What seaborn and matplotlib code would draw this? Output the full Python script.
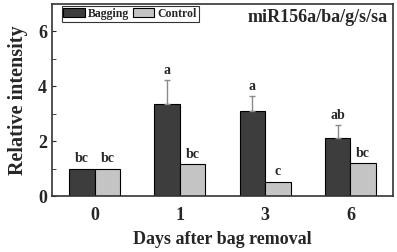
import numpy as np
import pandas as pd
import matplotlib.pyplot as plt
import seaborn as sns

days = ['0', '1', '3', '6']
treatments = ['Bagging', 'Control']
bagging = [1.0, 3.35, 3.09, 2.12]
bagging_err = [0.0, 0.87, 0.55, 0.46]
control = [1.0, 1.16, 0.52, 1.21]
control_err = [0.0, 0.0, 0.0, 0.0]
bagging_letters = ['bc', 'a', 'a', 'ab']
control_letters = ['bc', 'bc', 'c', 'bc']

df = pd.DataFrame({
    'day': days * 2,
    'group': ['Bagging'] * 4 + ['Control'] * 4,
    'value': bagging + control,
})

sns.set_style('ticks')
plt.rcParams['font.family'] = ['Liberation Serif', 'DejaVu Serif']
plt.rcParams['font.weight'] = 'bold'

fig = plt.figure(figsize=(3.97, 2.52), dpi=100)
ax = fig.add_axes([0.131, 0.222, 0.859, 0.762])

sns.barplot(data=df, x='day', y='value', hue='group', hue_order=treatments,
            palette=['#3d3d3d', '#c4c4c4'], edgecolor='black', linewidth=0.8,
            width=0.6, errorbar=None, ax=ax)

errs = [bagging_err, control_err]
vals = [bagging, control]
letters = [bagging_letters, control_letters]
bar_groups = list(ax.containers)
for k, cont in enumerate(bar_groups):
    for i, p in enumerate(cont.patches):
        xc = p.get_x() + p.get_width() / 2
        top = vals[k][i] + errs[k][i]
        if errs[k][i] > 0:
            ax.errorbar(xc, vals[k][i], yerr=[[0], [errs[k][i]]], fmt='none',
                        ecolor='#8a8a8a', elinewidth=1, capsize=2, capthick=1)
        ax.text(xc, top + 0.12, letters[k][i], ha='center', va='bottom',
                fontsize=10, fontweight='bold')

ax.set_xlim(-0.5, 3.5)
ax.set_ylim(0, 7)
ax.set_yticks([0, 2, 4, 6])
ax.set_yticks([1, 3, 5], minor=True)
ax.tick_params(axis='y', which='both', direction='in', labelsize=13, length=3)
ax.tick_params(axis='x', length=0, labelsize=13, pad=8)
for lab in ax.get_xticklabels() + ax.get_yticklabels():
    lab.set_fontweight('bold')
for s in ax.spines.values():
    s.set_linewidth(1.2)
    s.set_color('#333333')

ax.set_xlabel('Days after bag removal', fontsize=13, fontweight='bold', labelpad=5)
ax.set_ylabel('Relative intensity', fontsize=14.5, fontweight='bold', labelpad=7)

ax.text(0.985, 0.93, 'miR156a/ba/g/s/sa', transform=ax.transAxes, ha='right',
        va='center', fontsize=13, fontweight='bold')

leg = ax.legend(loc='upper left', bbox_to_anchor=(0.025, 0.995), ncol=2,
                fontsize=8.5, frameon=True, fancybox=False, edgecolor='black',
                handlelength=1.8, handleheight=0.8, columnspacing=0.3,
                handletextpad=0.3, borderpad=0.15, borderaxespad=0.1, title=None)
leg.get_frame().set_linewidth(0.8)
for t in leg.get_texts():
    t.set_fontweight('bold')

fig.savefig('out.png', dpi=100)
